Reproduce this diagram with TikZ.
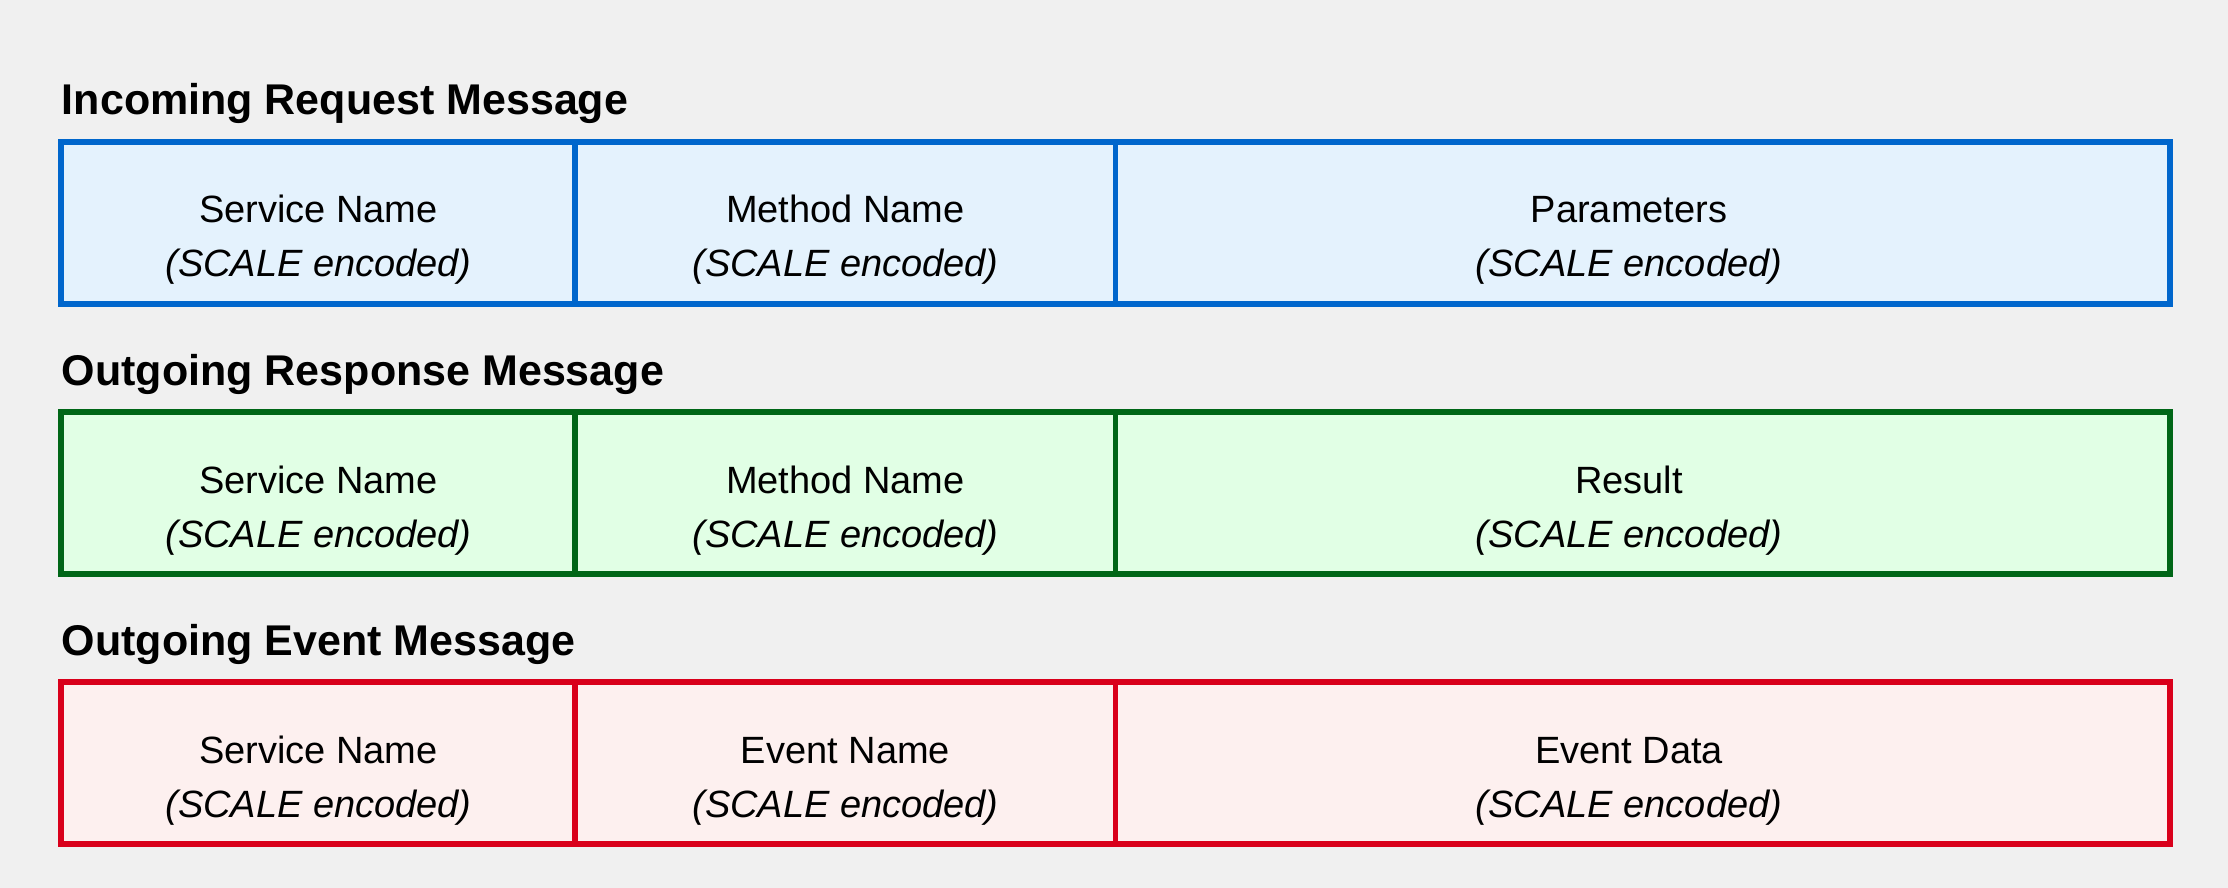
\documentclass[tikz,border=0pt]{standalone}
\usepackage{fontspec}
\setmainfont{Liberation Sans}
\definecolor{pagebg}{HTML}{F0F0F0}
\definecolor{reqline}{HTML}{0066CC}
\definecolor{reqfill}{HTML}{E4F2FD}
\definecolor{resline}{HTML}{006617}
\definecolor{resfill}{HTML}{E1FFE5}
\definecolor{evtline}{HTML}{D9001B}
\definecolor{evtfill}{HTML}{FDF0EF}
\begin{document}
\begin{tikzpicture}[x=0.5pt,y=-0.5pt,
  cell/.style={draw, line width=2.75pt, inner sep=0pt, outer sep=0pt, anchor=north west, minimum height=81pt},
  colA/.style={cell, minimum width=256.75pt},
  colB/.style={cell, minimum width=270pt},
  colC/.style={cell, minimum width=527.25pt},
  req/.style={draw=reqline, fill=reqfill},
  res/.style={draw=resline, fill=resfill},
  evt/.style={draw=evtline, fill=evtfill},
  heading/.style={anchor=base west, inner sep=0pt, font=\fontsize{21.5pt}{26pt}\selectfont\bfseries},
  field/.style={anchor=base, inner sep=0pt, font=\fontsize{19pt}{23pt}\selectfont},
  enc/.style={anchor=base, inner sep=0pt, font=\fontsize{19pt}{23pt}\selectfont\itshape}]
\fill[pagebg] (0,0) rectangle (2228,888);
\useasboundingbox (0,0) rectangle (2228,888);

% Incoming request
\node[heading] (reqT) at (61.5,115) {Incoming Request Message};
\node[colA, req] (reqA) at (61,141.8) {};
\node[colB, req] (reqB) at (575.5,141.8) {};
\node[colC, req] (reqC) at (1115.5,141.8) {};
\node[field] (reqA1) at (318.5,222.8) {Service Name};
\node[enc]   (reqA2) at (318.5,276.8) {(SCALE encoded)};
\node[field] (reqB1) at (845.5,222.8) {Method Name};
\node[enc]   (reqB2) at (845.5,276.8) {(SCALE encoded)};
\node[field] (reqC1) at (1629,222.8) {Parameters};
\node[enc]   (reqC2) at (1629,276.8) {(SCALE encoded)};

% Outgoing response
\node[heading] (resT) at (61.5,385) {Outgoing Response Message};
\node[colA, res] (resA) at (61,412) {};
\node[colB, res] (resB) at (575.5,412) {};
\node[colC, res] (resC) at (1115.5,412) {};
\node[field] (resA1) at (318.5,493) {Service Name};
\node[enc]   (resA2) at (318.5,547) {(SCALE encoded)};
\node[field] (resB1) at (845.5,493) {Method Name};
\node[enc]   (resB2) at (845.5,547) {(SCALE encoded)};
\node[field] (resC1) at (1629,493) {Result};
\node[enc]   (resC2) at (1629,547) {(SCALE encoded)};

% Outgoing event
\node[heading] (evtT) at (61.5,655) {Outgoing Event Message};
\node[colA, evt] (evtA) at (61,682) {};
\node[colB, evt] (evtB) at (575.5,682) {};
\node[colC, evt] (evtC) at (1115.5,682) {};
\node[field] (evtA1) at (318.5,763) {Service Name};
\node[enc]   (evtA2) at (318.5,817) {(SCALE encoded)};
\node[field] (evtB1) at (845.5,763) {Event Name};
\node[enc]   (evtB2) at (845.5,817) {(SCALE encoded)};
\node[field] (evtC1) at (1629,763) {Event Data};
\node[enc]   (evtC2) at (1629,817) {(SCALE encoded)};
\end{tikzpicture}
\end{document}
